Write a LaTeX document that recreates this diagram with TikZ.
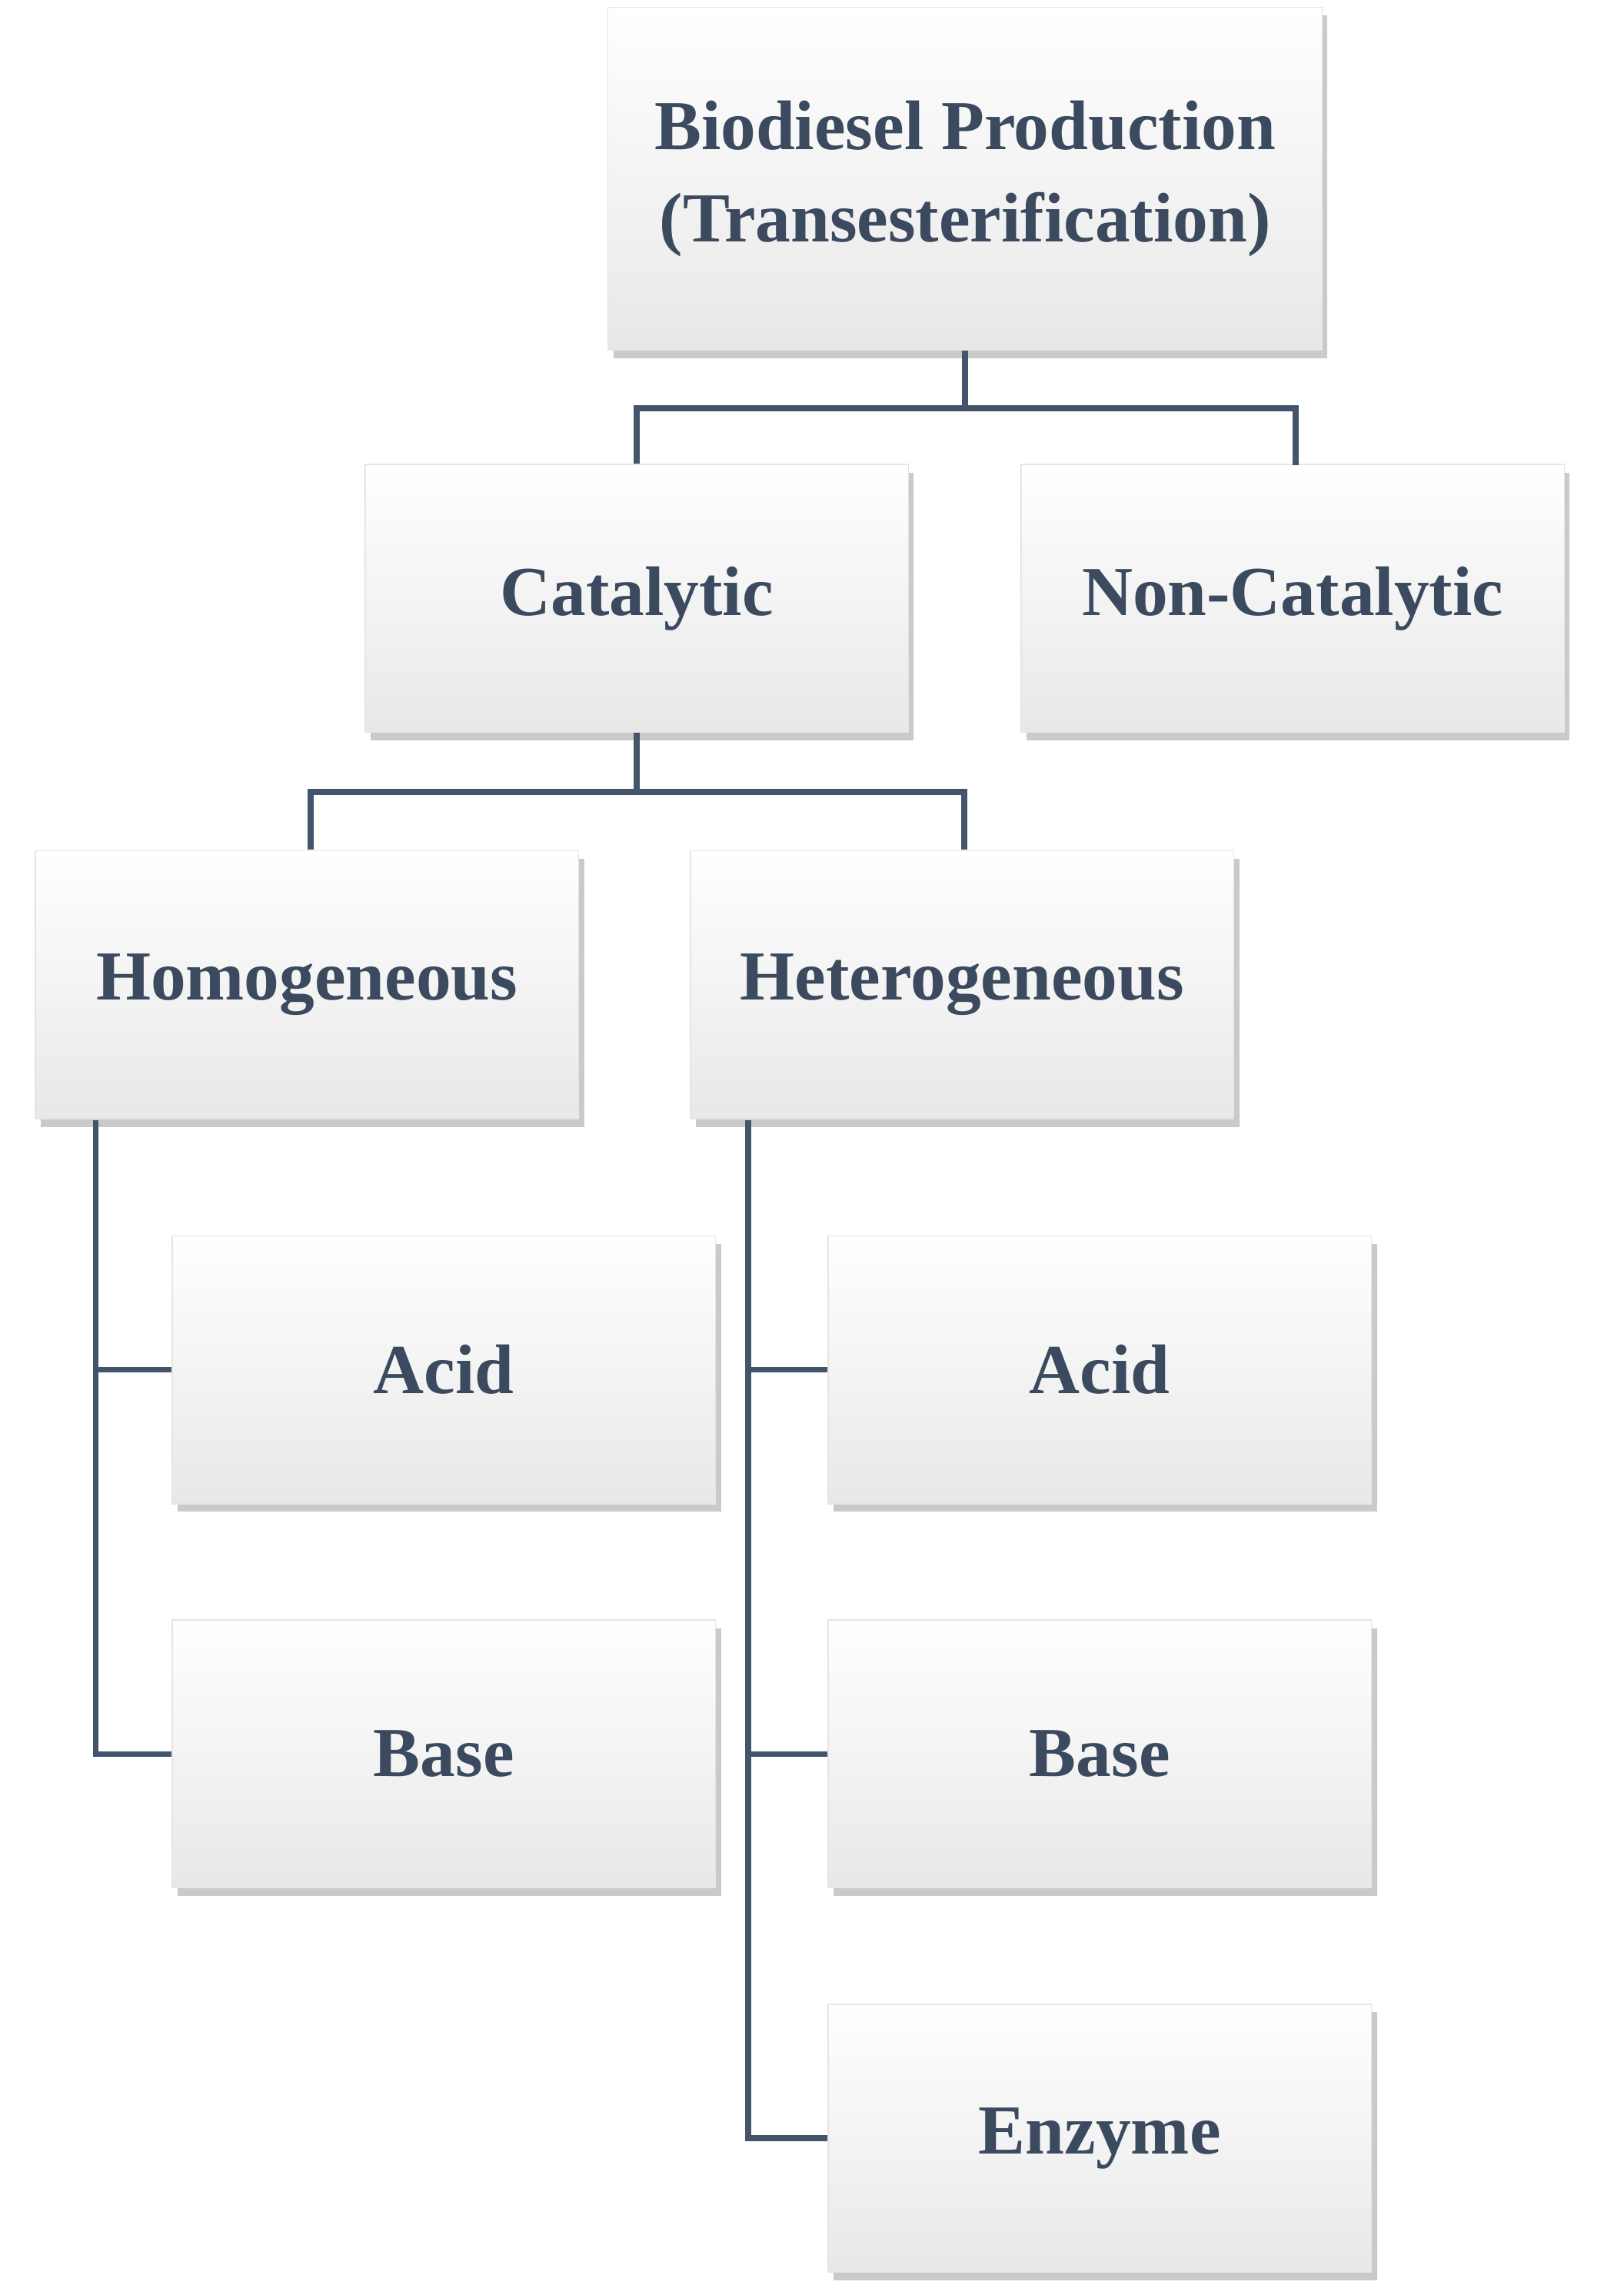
\documentclass[tikz,border=0pt]{standalone}
\usepackage{fontspec}
\setmainfont{Liberation Serif}
\usetikzlibrary{shadows}
\definecolor{txt}{HTML}{3B4A5E}
\definecolor{ln}{HTML}{44546A}
\begin{document}
\begin{tikzpicture}[x=0.01915cm,y=-0.01915cm,
 box/.style={draw=gray!20,top color=white,bottom color=gray!18,
   drop shadow={shadow xshift=2pt,shadow yshift=-3pt,fill=gray!70,opacity=0.6},
   minimum width=369*0.01915cm,minimum height=182*0.01915cm,
   font=\fontsize{26}{34}\selectfont\bfseries,text=txt,align=center,inner sep=0pt},
 conn/.style={draw=ln,line width=2.2pt}]
\useasboundingbox (0,0) rectangle (1103,1559);
\node[box,minimum width=485*0.01915cm,minimum height=233*0.01915cm] (top) at (655.5,121.5) {Biodiesel Production\\(Transesterification)};
\node[box] (cat) at (432.5,406.5) {Catalytic};
\node[box] (non) at (878,406.5) {Non-Catalytic};
\node[box] (hom) at (208.5,669) {Homogeneous};
\node[box] (het) at (653.5,669) {Heterogeneous};
\node[box] (acl) at (301.5,930.5) {Acid};
\node[box] (bal) at (301.5,1191.5) {Base};
\node[box] (acr) at (747,930.5) {Acid};
\node[box] (bar) at (747,1191.5) {Base};
\node[box] (enz) at (747,1452.5) {Enzyme};
\draw[conn] (top.south) -- ++(0,39) -| (cat.north);
\draw[conn] (top.south) -- ++(0,39) -| (880,316);
\draw[conn] (cat.south) -- ++(0,40) -| (211,577);
\draw[conn] (cat.south) -- ++(0,40) -| (655,577);
\draw[conn] (65,761) |- (acl.west);
\draw[conn] (65,761) |- (bal.west);
\draw[conn] (508,761) |- (acr.west);
\draw[conn] (508,761) |- (bar.west);
\draw[conn] (508,761) |- (enz.west);
\end{tikzpicture}
\end{document}
